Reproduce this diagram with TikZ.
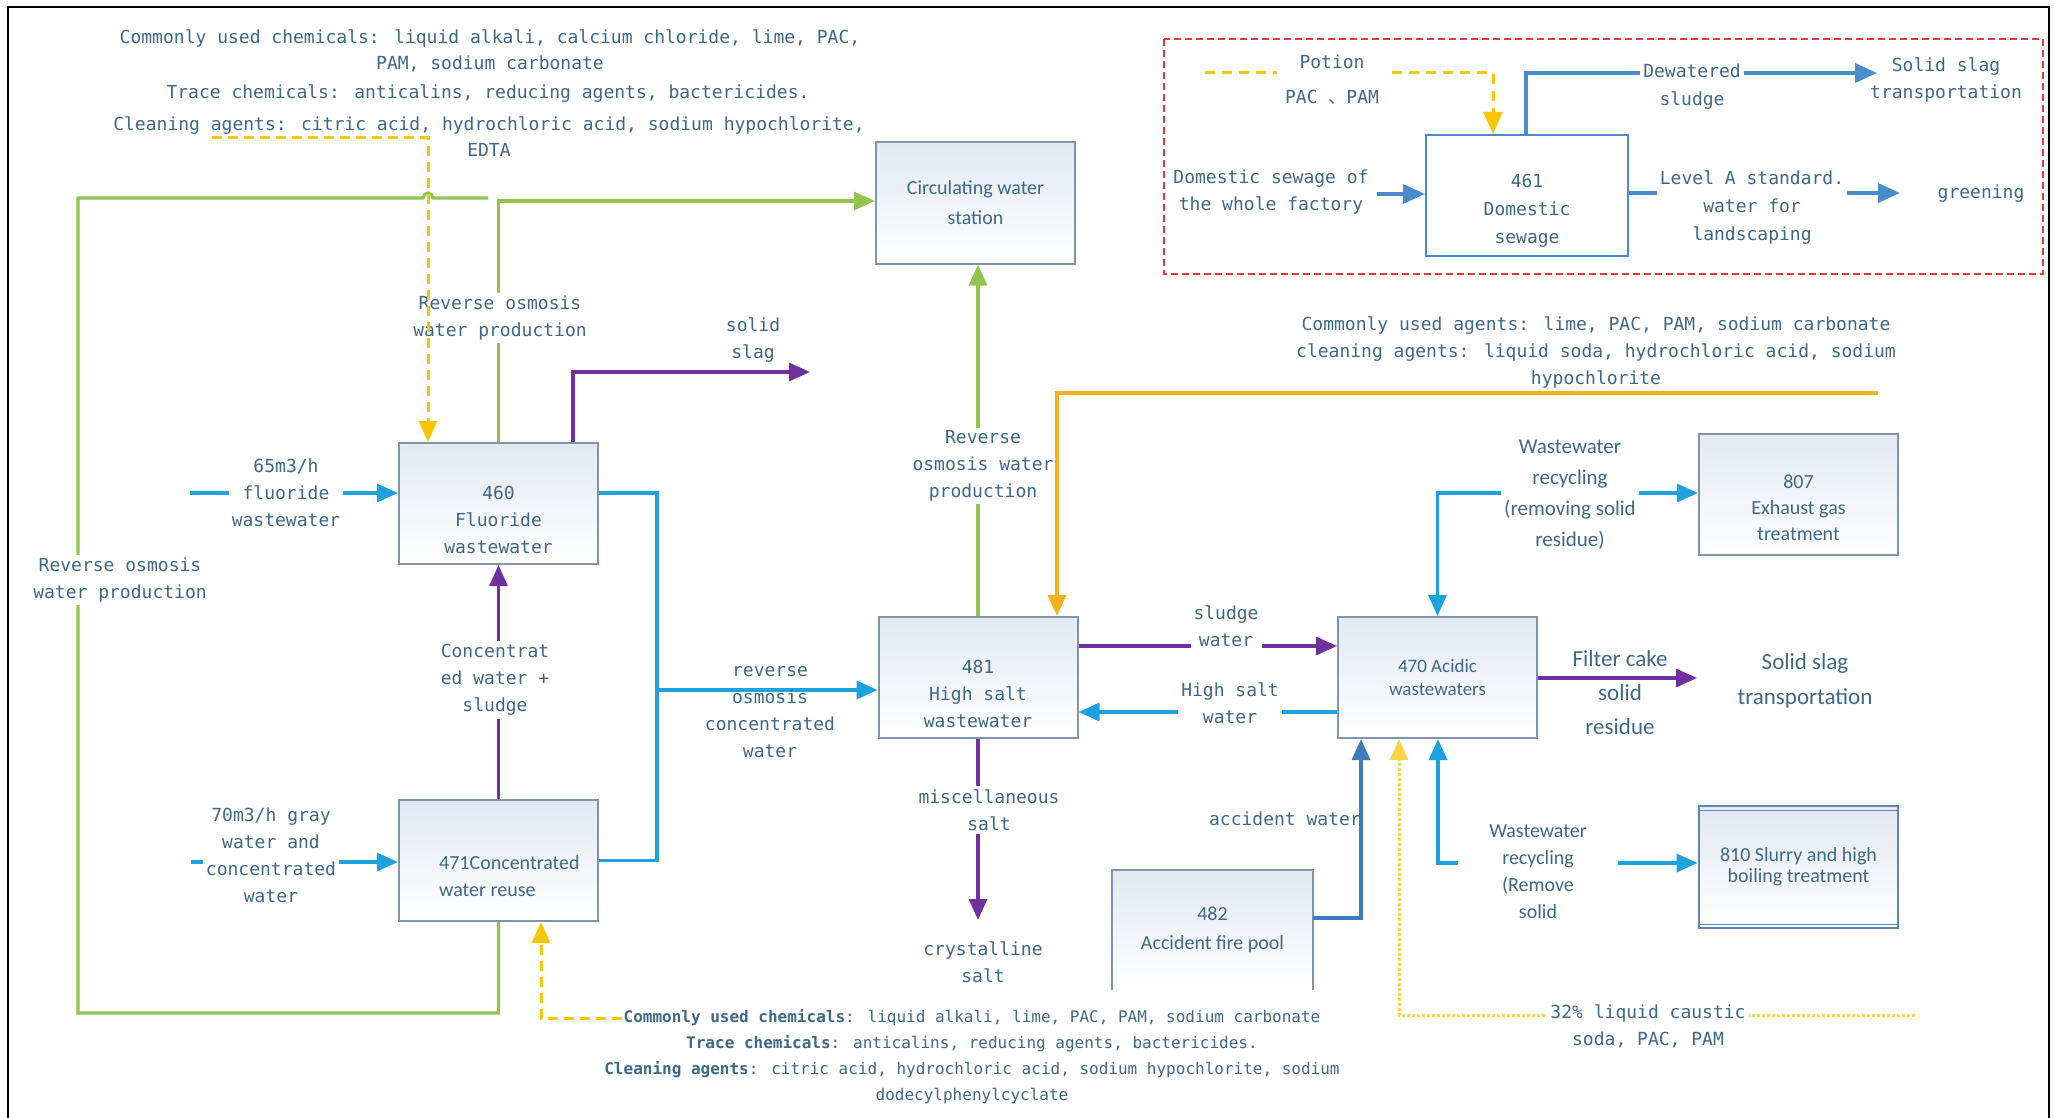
\documentclass[tikz,border=0pt]{standalone}
\usepackage{fontspec}
\usetikzlibrary{arrows.meta}
\newfontfamily\monof{DejaVu Sans Mono}
\newfontfamily\sansf{Carlito}
\newfontfamily\cjkf{Noto Sans CJK SC}
\definecolor{txt}{RGB}{62,104,136}
\definecolor{boxc}{RGB}{128,148,170}
\definecolor{boxtop}{RGB}{226,233,242}
\definecolor{greenc}{RGB}{146,197,80}
\definecolor{bluec}{RGB}{30,162,222}
\definecolor{purplec}{RGB}{112,48,160}
\definecolor{ysolid}{RGB}{245,178,27}
\definecolor{ydash}{RGB}{247,198,0}
\definecolor{ydot}{RGB}{248,212,76}
\definecolor{redc}{RGB}{224,57,62}
\definecolor{rbblue}{RGB}{74,140,203}
\definecolor{accblue}{RGB}{62,122,190}
\definecolor{cten}{RGB}{95,134,176}
\tikzset{
 msz/.style n args={2}{font=\monof\fontsize{#1}{#2}\selectfont},
 fsz/.style n args={2}{font=\sansf\fontsize{#1}{#2}\selectfont},
 mono/.style={msz={18}{27}, text=txt, align=center, inner sep=1pt},
 sansl/.style={fsz={20}{30}, text=txt, align=center, inner sep=1pt},
 wbg/.style={fill=white, inner sep=3pt},
 proc/.style={draw=boxc, line width=2pt, top color=boxtop, bottom color=white, minimum width=199pt, minimum height=121pt, inner sep=0pt},
 tip/.style={arrows={-Triangle[length=21pt,width=18pt]}},
 tipboth/.style={arrows={Triangle[length=21pt,width=18pt]-Triangle[length=21pt,width=18pt]}},
 bigtip/.style={arrows={-Triangle[length=22pt,width=19pt]}},
 gline/.style={draw=greenc, line width=3.2pt},
 bline/.style={draw=bluec, line width=3.4pt},
 pline/.style={draw=purplec, line width=3.2pt},
 rline/.style={draw=rbblue, line width=3.6pt},
}
\begin{document}
\begin{tikzpicture}[x=1pt,y=-1pt]
\useasboundingbox (0,0) rectangle (2055,1118);
\fill[white] (0,0) rectangle (2055,1118);
\draw[black, line width=2pt] (8,1118) -- (8,7) -- (2049,7) -- (2049,1118);

% ---------- red dashed area ----------
\draw[redc, line width=2.8pt, dash pattern=on 7pt off 4pt] (1164,39) rectangle (2043,274);
\node[draw=rbblue, line width=2pt, fill=white, minimum width=202pt, minimum height=121pt] (n461) at (1527,195.5) {};
\node[mono, msz={18}{28}] (t461) at ([yshift=-15pt]n461.center) {461\\Domestic\\sewage};

\coordinate (po1) at (1205,73);
\coordinate (po2) at (1493,73);
\draw[ydash, line width=3pt, dash pattern=on 10pt off 7pt, bigtip] (po1) -- (po2) -- (po2 |- n461.north);
\node[mono, wbg, msz={18}{35}, minimum width=110pt] (lpot) at (1332,80) {Potion\\PAC {\cjkf 、}PAM};

\coordinate (dw) at (1526,73);
\coordinate (dwe) at (1877,73);
\draw[rline, bigtip] (dw |- n461.north) -- (dw) -- (dwe);
\node[mono, wbg, msz={18}{28}] (ldw) at (1692,87) {Dewatered\\sludge};
\node[mono] (lssl) at (1946,80) {Solid slag\\transportation};

\coordinate (ds) at (1377,194);
\draw[rline, bigtip] (ds) -- (ds -| n461.west);
\node[mono] (lds) at (1271,192) {Domestic sewage of\\the whole factory};

\coordinate (grn) at (1900,193);
\draw[rline, bigtip] (n461.east |- grn) -- (grn);
\node[mono, wbg, msz={18}{28}] (llev) at (1752,208) {Level A standard.\\water for\\landscaping};
\node[mono] (lgreen) at (1981,194) {greening};

% ---------- top-left chemicals ----------
\node[mono, msz={18}{26}] (tl1) at (490,51) {Commonly used chemicals: liquid alkali, calcium chloride, lime, PAC,\\PAM, sodium carbonate};
\node[mono] (tl2) at (488,94) {Trace chemicals: anticalins, reducing agents, bactericides.};
\node[mono, msz={18}{26}] (tl3) at (489,137) {Cleaning agents: citric acid, hydrochloric acid, sodium hypochlorite,\\EDTA};

% ---------- boxes ----------
\node[proc, sansl] (circ) at (975.5,203) {Circulating water\\station};
\node[proc] (n460) at (498.5,503.5) {};
\node[mono] (t460) at ([yshift=-16pt]n460.center) {460\\Fluoride\\wastewater};
\node[proc] (n471) at (498.5,860.5) {};
\node[sansl, fsz={20}{27}, anchor=west, align=left] (t471) at ([xshift=40pt,yshift=-16pt]n471.west) {471Concentrated\\water reuse};
\node[proc] (n481) at (978,677.5) {};
\node[mono, msz={18}{27}] (t481) at ([yshift=-16pt]n481.center) {481\\High salt\\wastewater};
\node[proc, sansl, fsz={19}{23}] (n470) at (1437.5,677.5) {470 Acidic\\wastewaters};
\node[proc] (n807) at (1798.5,494) {};
\node[sansl, fsz={20}{26}] (t807) at ([yshift=-14pt]n807.center) {807\\Exhaust gas\\treatment};
\node[draw=cten, line width=2.8pt, top color=boxtop, bottom color=white, minimum width=199pt, minimum height=122pt, sansl, fsz={20}{21}] (n810) at (1798.5,867) {810 Slurry and high\\boiling treatment};
\draw[cten, line width=1.6pt] ([yshift=-6pt]n810.north west) -- ([yshift=-6pt]n810.north east);
\draw[cten, line width=1.6pt] ([yshift=5pt]n810.south west) -- ([yshift=5pt]n810.south east);
\node[top color=boxtop, bottom color=white, minimum width=201pt, minimum height=120pt, inner sep=0pt] (n482) at (1212.5,930) {};
\draw[boxc, line width=2.2pt] (n482.south west) -- (n482.north west) -- (n482.north east) -- (n482.south east);
\node[sansl, fsz={20}{29}] (t482) at (n482.center) {482\\Accident fire pool};

% ---------- green lines ----------
\coordinate (gTop) at (499,201);
\draw[gline, tip] (n460.north) -- (n460.north |- gTop) -- (gTop -| circ.west);
\coordinate (gLoopB) at (78,1013);
\coordinate (gLoopT) at (78,198);
\coordinate (gEnd) at (488,198);
\draw[gline] (n471.south) -- (n471.south |- gLoopB) -- (gLoopB) -- (gLoopT) -- (423,198) arc[start angle=180, end angle=0, radius=5pt] -- (gEnd);
\draw[gline, tip] (n481.north) -- (n481.north |- circ.south);
\node[mono, wbg] (lROa) at (500,318) {Reverse osmosis\\water production};
\node[mono, wbg] (lROb) at (120,580) {Reverse osmosis\\water production};
\node[mono, wbg] (lROc) at (983,466) {Reverse\\osmosis water\\production};

% ---------- yellow dashed (top-left) ----------
\coordinate (yd1) at (212,138);
\coordinate (yd2) at (428,138);
\draw[ydash, line width=3pt, dash pattern=on 10pt off 6pt, tip] (yd1) -- (yd2) -- (yd2 |- n460.north);

% ---------- purple solid slag ----------
\coordinate (pss) at (810,372);
\draw[pline, tip] ([xshift=74.5pt]n460.north) -- ([xshift=74.5pt]n460.north |- pss) -- (pss);
\node[mono] (lsolid) at (753,340) {solid\\slag};

% ---------- blue 460 / 471 / 481 ----------
\coordinate (bj) at (657,493);
\draw[bline] (n460.east |- bj) -- (bj) -- (bj |- n471.east) -- (n471.east);
\coordinate (bb) at (657,690);
\draw[bline, tip] (bb) -- (bb -| n481.west);
\node[mono] (lrosc) at (770,712) {reverse\\osmosis\\concentrated\\water};

\coordinate (in65) at (190,493);
\draw[bline, tip] (in65) -- (in65 -| n460.west);
\node[mono, wbg] (l65) at (286,493) {65m3/h\\fluoride\\wastewater};
\coordinate (in70) at (191,862);
\draw[bline, tip] (in70) -- (in70 -| n471.west);
\node[mono, wbg] (l70) at (271,855) {70m3/h gray\\water and\\concentrated\\water};

\draw[pline, tip] (n471.north) -- (n460.south);
\node[mono, wbg] (lconc) at (495,680) {Concentrat\\ed water +\\sludge};

% ---------- yellow dashed bottom ----------
\coordinate (yb) at (622,1018);
\coordinate (yb2) at (541,1018);
\draw[ydash, line width=3pt, dash pattern=on 10pt off 6pt, tip] (yb) -- (yb2) -- (yb2 |- n471.south);
\node[mono, msz={16}{26}] (bot) at (972,1057) {\textbf{Commonly used chemicals}: liquid alkali, lime, PAC, PAM, sodium carbonate\\\textbf{Trace chemicals}: anticalins, reducing agents, bactericides.\\\textbf{Cleaning agents}: citric acid, hydrochloric acid, sodium hypochlorite, sodium\\dodecylphenylcyclate};

% ---------- 481 outputs ----------
\coordinate (pcs) at (978,920);
\draw[pline, tip] (n481.south) -- (n481.south |- pcs);
\node[mono, wbg] (lmisc) at (989,810) {miscellaneous\\salt};
\node[mono] (lcrys) at (983,962) {crystalline\\salt};

\coordinate (ys) at (1878,393);
\coordinate (ys2) at (1057,393);
\draw[ysolid, line width=3.6pt, tip] (ys) -- (ys2) -- (ys2 |- n481.north);
\node[mono] (lagents) at (1596,352) {Commonly used agents: lime, PAC, PAM, sodium carbonate\\cleaning agents: liquid soda, hydrochloric acid, sodium\\hypochlorite};

\coordinate (sw) at (1078,646);
\draw[pline, tip] (n481.east |- sw) -- (sw -| n470.west);
\node[mono, wbg, inner ysep=6pt] (lsw) at (1226,626) {sludge\\water};
\coordinate (hs) at (1338,712);
\draw[bline, tip] (n470.west |- hs) -- (hs -| n481.east);
\node[mono, wbg] (lhs) at (1230,703) {High salt\\water};

% ---------- 470 connections ----------
\coordinate (wr) at (1437,493);
\draw[bline, tipboth] (n470.north) -- (n470.north |- wr) -- (wr -| n807.west);
\node[sansl, wbg, fsz={21}{31}] (lwr1) at (1570,495) {Wastewater\\recycling\\(removing solid\\residue)};

\coordinate (fc) at (1697,678);
\draw[pline, tip] (n470.east |- fc) -- (fc);
\node[sansl, fsz={23}{34}] (lfc) at (1620,693) {Filter cake\\solid\\residue};
\node[sansl, fsz={23}{35}] (lsst) at (1805,681) {Solid slag\\transportation};

\coordinate (acc) at (1361,918);
\draw[accblue, line width=3.4pt, tip] (n482.east |- acc) -- (acc) -- (acc |- n470.south);
\node[mono, anchor=east] (lacc) at (1362,819) {accident water};

\coordinate (yc1) at (1915,1015);
\coordinate (yc2) at (1399,1015);
\draw[ydot, line width=3pt, dash pattern=on 3pt off 2pt, tip] (yc1) -- (yc2) -- (yc2 |- n470.south);
\node[mono, wbg] (lcaus) at (1648,1026) {32\% liquid caustic\\soda, PAC, PAM};

\coordinate (wr2) at (1438,863);
\draw[bline, tipboth] (wr2 |- n470.south) -- (wr2) -- (wr2 -| n810.west);
\node[sansl, wbg, fsz={20}{27}, minimum width=160pt] (lwr2) at (1538,872) {Wastewater\\recycling\\(Remove\\solid};
\end{tikzpicture}
\end{document}
